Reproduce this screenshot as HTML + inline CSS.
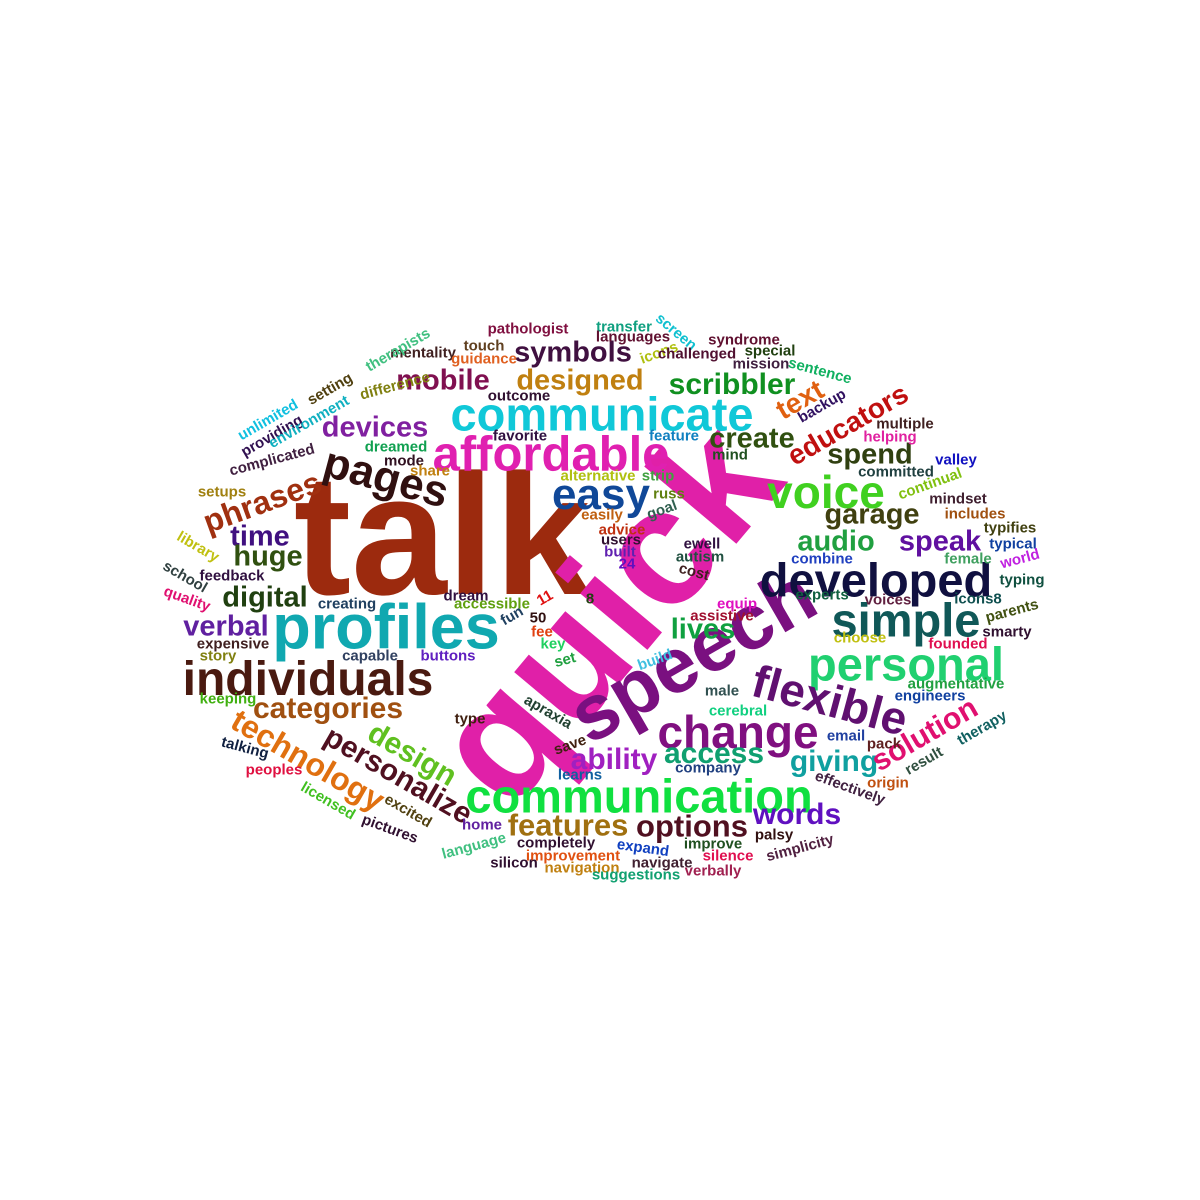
<!DOCTYPE html>
<html><head><meta charset="utf-8">
<style>
html,body{margin:0;padding:0;background:#fff;}
#cloud{position:relative;width:1200px;height:1200px;overflow:hidden;background:#fff;}
#cloud span{position:absolute;white-space:nowrap;font-family:"Liberation Sans",sans-serif;font-weight:bold;line-height:1;transform-origin:50% 50%;}
</style></head>
<body>
<div id="cloud"></div>
<script>
const words = [
["talk",442,535,172,0,"#9c2a0e"],
["quick",606,612,166,-50,"#e020a8"],
["speech",692,655,78,-30,"#7a1080"],
["profiles",386,628,63,0,"#10a8b0"],
["individuals",308,680,48,0,"#4a1a10"],
["affordable",551,455,49,0,"#e020b0"],
["communicate",602,414,47,0,"#10c8d8"],
["communication",639,796,47,0,"#10e040"],
["developed",876,580,47,0,"#101040"],
["simple",906,620,47,0,"#105858"],
["personal",906,664,47,0,"#20d070"],
["flexible",830,700,46,15,"#601070"],
["change",738,732,46,0,"#801080"],
["voice",826,492,46,0,"#40d020"],
["easy",601,495,44,0,"#104898"],
["pages",386,478,44,15,"#301010"],
["phrases",262,502,32,-20,"#a03010"],
["technology",308,760,32,30,"#e07010"],
["personalize",398,776,30,30,"#501020"],
["design",412,755,30,30,"#60c020"],
["categories",328,709,30,0,"#a05010"],
["features",568,825,31,0,"#a07010"],
["options",692,826,31,0,"#501020"],
["words",797,815,30,0,"#6010c0"],
["ability",614,760,30,0,"#a020c0"],
["access",714,754,30,0,"#10a070"],
["giving",834,762,30,0,"#10a0a0"],
["solution",925,735,30,-30,"#e01070"],
["educators",848,425,28,-30,"#c01010"],
["text",800,400,28,-30,"#e06010"],
["scribbler",732,385,30,0,"#109020"],
["designed",580,381,29,0,"#c08010"],
["symbols",573,353,29,0,"#401040"],
["mobile",443,381,29,0,"#801050"],
["devices",375,428,29,0,"#8020a0"],
["create",752,439,29,0,"#305010"],
["spend",870,455,29,0,"#304010"],
["garage",872,515,29,0,"#404010"],
["audio",836,542,29,0,"#20a040"],
["speak",940,542,29,0,"#6010a0"],
["time",260,537,29,0,"#401080"],
["huge",268,557,29,0,"#305010"],
["digital",265,598,29,0,"#204010"],
["verbal",226,627,29,0,"#6020a0"],
["lives",703,630,29,0,"#10a040"],
["pathologist",528,329,15,0,"#801040"],
["transfer",624,327,15,0,"#10a080"],
["screen",676,332,15,40,"#10c0d0"],
["languages",633,337,15,0,"#601030"],
["syndrome",744,340,15,0,"#601030"],
["touch",484,346,15,0,"#604020"],
["icons",659,353,15,-20,"#b0c010"],
["challenged",697,354,15,0,"#501030"],
["special",770,351,15,0,"#204010"],
["mentality",423,353,15,0,"#402020"],
["therapists",398,350,15,-30,"#40c080"],
["guidance",484,359,15,0,"#e06020"],
["mission",761,364,15,0,"#402040"],
["sentence",820,371,15,15,"#10b060"],
["setting",330,389,15,-30,"#504010"],
["difference",395,386,15,-15,"#808010"],
["outcome",519,396,15,0,"#301030"],
["backup",822,406,15,-30,"#301060"],
["unlimited",268,420,15,-30,"#10c0e0"],
["providing",272,436,15,-30,"#301050"],
["environment",309,422,15,-30,"#10b0c0"],
["multiple",905,424,15,0,"#402020"],
["favorite",520,436,15,0,"#301040"],
["feature",674,436,15,0,"#1080c0"],
["helping",890,437,15,0,"#e020a0"],
["dreamed",396,447,15,0,"#10a050"],
["complicated",272,460,15,-15,"#402040"],
["mode",404,461,15,0,"#301020"],
["mind",730,455,15,0,"#205020"],
["valley",956,460,15,0,"#1010c0"],
["share",430,471,15,0,"#c08010"],
["committed",896,472,15,0,"#204040"],
["alternative",598,476,15,0,"#b0c010"],
["strip",658,476,15,0,"#40a040"],
["continual",930,484,15,-20,"#80c010"],
["setups",222,492,15,0,"#a08010"],
["easily",602,515,15,0,"#c06010"],
["goal",662,510,15,-20,"#306050"],
["russ",669,494,15,0,"#608010"],
["mindset",958,499,15,0,"#402030"],
["includes",975,514,15,0,"#a05010"],
["advice",622,530,15,0,"#c03010"],
["library",198,547,15,30,"#c0c010"],
["typifies",1010,528,15,0,"#404010"],
["users",621,540,15,0,"#301030"],
["built",620,552,15,0,"#6020b0"],
["ewell",702,544,15,0,"#301040"],
["typical",1013,544,15,0,"#1040a0"],
["autism",700,557,15,0,"#205040"],
["combine",822,559,15,0,"#2040c0"],
["female",968,559,15,0,"#40a060"],
["school",185,577,15,30,"#304040"],
["24",627,564,15,0,"#6010c0"],
["cost",694,572,15,15,"#402020"],
["world",1020,559,15,-15,"#c020e0"],
["feedback",232,576,15,0,"#301040"],
["typing",1022,580,15,0,"#105040"],
["quality",187,599,15,20,"#e01070"],
["11",545,598,15,-30,"#e01010"],
["8",590,599,15,0,"#204010"],
["dream",466,596,15,0,"#301040"],
["creating",347,604,15,0,"#204060"],
["accessible",492,604,15,0,"#60a010"],
["experts",822,595,15,0,"#106040"],
["voices",888,600,15,0,"#602040"],
["icons8",978,599,15,0,"#105050"],
["equip",737,604,15,0,"#e010c0"],
["parents",1012,611,15,-15,"#405010"],
["assistive",722,616,15,0,"#a01030"],
["50",538,618,15,0,"#301010"],
["fun",512,616,15,-30,"#204060"],
["fee",542,632,15,0,"#e04010"],
["smarty",1007,632,15,0,"#301030"],
["expensive",233,644,15,0,"#402020"],
["key",553,644,15,0,"#20d060"],
["choose",860,638,15,0,"#c0c010"],
["founded",958,644,15,0,"#e01050"],
["capable",370,656,15,0,"#304060"],
["buttons",448,656,15,0,"#6020c0"],
["story",218,656,15,0,"#808010"],
["set",565,660,15,-15,"#20a040"],
["build",655,660,15,-20,"#40c0e0"],
["augmentative",956,684,15,0,"#20a040"],
["keeping",228,699,15,0,"#40b010"],
["male",722,691,15,0,"#305050"],
["engineers",930,696,15,0,"#1040a0"],
["apraxia",548,712,15,30,"#204030"],
["type",470,719,15,0,"#402010"],
["cerebral",738,711,15,0,"#10d080"],
["email",846,736,15,0,"#2040a0"],
["therapy",982,728,15,-30,"#106060"],
["pack",884,744,15,0,"#602020"],
["talking",245,748,15,15,"#102040"],
["save",570,745,15,-20,"#402010"],
["company",708,768,15,0,"#204080"],
["result",924,761,15,-30,"#305040"],
["peoples",274,770,15,0,"#e01040"],
["learns",580,775,15,0,"#1060a0"],
["effectively",850,788,15,20,"#402040"],
["origin",888,783,15,0,"#c05010"],
["licensed",328,801,15,30,"#40c020"],
["excited",408,811,15,30,"#504010"],
["pictures",390,829,15,20,"#301030"],
["home",482,825,15,0,"#6020a0"],
["palsy",774,835,15,0,"#301010"],
["simplicity",800,848,15,-15,"#502040"],
["language",474,846,15,-15,"#40c080"],
["completely",556,843,15,0,"#301030"],
["expand",643,848,15,8,"#1040c0"],
["improve",713,844,15,0,"#205020"],
["improvement",573,856,15,0,"#e05010"],
["silence",728,856,15,0,"#e01050"],
["silicon",514,863,15,0,"#301030"],
["navigate",662,863,15,0,"#402030"],
["navigation",582,868,15,0,"#c08010"],
["verbally",713,871,15,0,"#a02050"],
["suggestions",636,875,15,0,"#10a070"]
];
const cloud = document.getElementById('cloud');
for (const w of words) {
  const s = document.createElement('span');
  s.textContent = w[0];
  
  
  s.style.fontSize = w[3] + 'px';
  s.style.color = w[5];
  s.style.left = w[1] + 'px';
  s.style.top = w[2] + 'px';
  s.style.transform = 'translate(-50%,-50%) rotate(' + w[4] + 'deg)';
  cloud.appendChild(s);
}
</script>
</body></html>
